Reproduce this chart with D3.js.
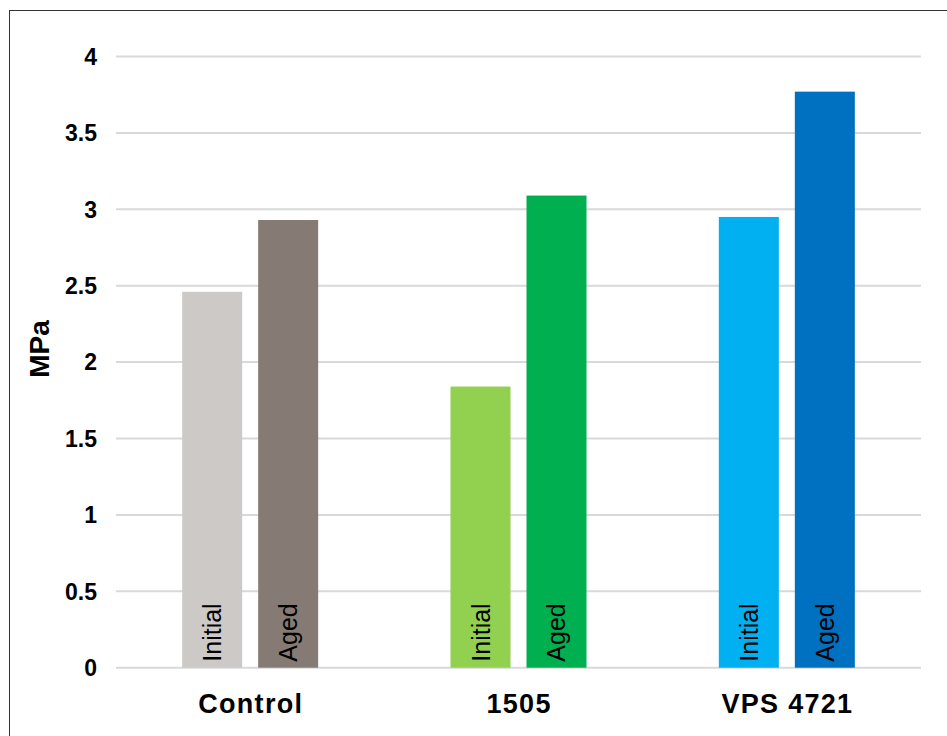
<!DOCTYPE html>
<html>
<head>
<meta charset="utf-8">
<script src="https://cdn.jsdelivr.net/npm/d3@7"></script>
<style>
  html, body { margin: 0; padding: 0; background: #fff; }
  svg { display: block; }
  text { font-family: "Liberation Sans", Arial, sans-serif; fill: #000; }
</style>
</head>
<body>
<svg id="chart" width="947" height="736"></svg>
<script>
const categories = ["Control", "1505", "VPS 4721"];
const seriesNames = ["Initial", "Aged"];
const initialValues = [2.46, 1.84, 2.95];
const agedValues = [2.93, 3.09, 3.77];
const barColors = [
  ["#cdc9c6", "#857b74"],
  ["#92d050", "#00b050"],
  ["#00b0f0", "#0070c0"]
];
const yTicks = [0, 0.5, 1, 1.5, 2, 2.5, 3, 3.5, 4];
const yTickLabels = ["0", "0.5", "1", "1.5", "2", "2.5", "3", "3.5", "4"];
const yTitle = "MPa";

const svg = d3.select("#chart");

// frame
svg.append("rect")
  .attr("x", 9.5).attr("y", 10.5)
  .attr("width", 1200).attr("height", 1200)
  .attr("fill", "#fff").attr("stroke", "#333").attr("stroke-width", 1);

const x0 = d3.scaleBand().domain(categories).range([116, 921]).padding(0);
const x1 = d3.scaleBand().domain(seriesNames).range([-68, 68]).paddingInner(0.2105);
const y = d3.scaleLinear().domain([0, 4]).range([667.7, 56.5]);

// gridlines
svg.append("g").selectAll("line").data(yTicks).join("line")
  .attr("x1", 116).attr("x2", 921)
  .attr("y1", d => y(d)).attr("y2", d => y(d))
  .attr("stroke", "#d9d9d9").attr("stroke-width", 2);

// y tick labels
svg.append("g").selectAll("text").data(yTicks).join("text")
  .attr("x", 97).attr("y", d => y(d))
  .attr("dy", "0.36em")
  .attr("text-anchor", "end")
  .attr("font-size", 23).attr("font-weight", "bold")
  .text((d, i) => yTickLabels[i]);

// y title
svg.append("text")
  .attr("transform", "translate(49,349) rotate(-90)")
  .attr("text-anchor", "middle")
  .attr("font-size", 28).attr("font-weight", "bold")
  .text(yTitle);

// bars
const rows = [];
categories.forEach((c, i) => {
  rows.push({ cat: c, s: "Initial", v: initialValues[i], color: barColors[i][0] });
  rows.push({ cat: c, s: "Aged", v: agedValues[i], color: barColors[i][1] });
});

const center = c => x0(c) + x0.bandwidth() / 2;

svg.append("g").selectAll("rect").data(rows).join("rect")
  .attr("x", d => center(d.cat) + x1(d.s))
  .attr("width", x1.bandwidth())
  .attr("y", d => y(d.v))
  .attr("height", d => y(0) - y(d.v))
  .attr("fill", d => d.color);

// in-bar labels
svg.append("g").selectAll("text").data(rows).join("text")
  .attr("transform", d => {
    const cx = center(d.cat) + x1(d.s) + x1.bandwidth() / 2 + 9;
    return `translate(${cx},${y(0) - 6}) rotate(-90)`;
  })
  .attr("text-anchor", "start")
  .attr("font-size", 25)
  .text(d => d.s);

// category labels
svg.append("g").selectAll("text").data(categories).join("text")
  .attr("x", d => center(d) + 0.6).attr("y", 713)
  .attr("text-anchor", "middle")
  .attr("font-size", 27).attr("font-weight", "bold")
  .attr("letter-spacing", 1.3)
  .text(d => d);
</script>
</body>
</html>
